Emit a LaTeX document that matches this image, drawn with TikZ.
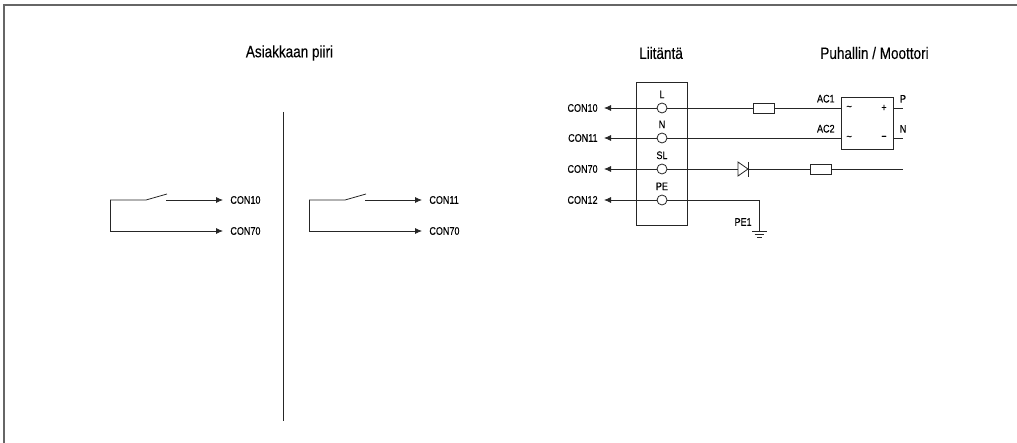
\documentclass[tikz,border=0pt]{standalone}
\usepackage{fontspec}
\setmainfont[FakeStretch=0.82,FakeBold=0.2]{Liberation Sans}
\usetikzlibrary{arrows.meta,positioning}

\begin{document}
\begin{tikzpicture}[x=1pt,y=-1pt,line width=0.8pt]
      \tikzstyle{wire}=[draw=black!85]
      \tikzstyle{tip}=[-{Latex[length=7pt,width=6pt]}]
      \tikzstyle{sig}=[inner sep=0pt,font=\fontsize{11}{11}\selectfont]
      \tikzstyle{title}=[inner sep=0pt,font=\fontsize{16.5}{16.5}\selectfont]
      \tikzstyle{term}=[circle,draw=black!85,fill=white,inner sep=0pt,minimum size=10pt]
      \tikzstyle{fuse}=[rectangle,draw=black!85,fill=white,inner sep=0pt,minimum width=21pt,minimum height=10pt]

      \useasboundingbox (0,0) rectangle (1017,443);
      \draw[draw=black!60,line width=1.2pt] (4,443) -- (4,5) -- (1017,5);

      \node[title](client) at (289.5,53){Asiakkaan piiri};
      \node[title](terminal) at (661,53){Liitäntä};
      \node[title](motor) at (874.5,53){Puhallin / Moottori};
      \coordinate (divtop) at (283,112);
      \coordinate (divbot) at (283,421);
      \draw[wire] (divtop) -- (divbot);

      \begin{scope}
        \coordinate (a) at (146,200);
        \coordinate (b) at (167,194);
        \coordinate (c) at (166,200);
        \coordinate (d) at (110,200);
        \coordinate (e) at (110,231);
        \node[sig,anchor=west](out1) at (230,200){CON10};
        \node[sig,anchor=west](out2) at (230,231){CON70};
        \draw[wire] (d) -- (a) -- (b);
        \draw[wire] (d) -- (e);
        \path[tip]
        (c) edge[wire] ([xshift=-7pt]out1.west)
        (e) edge[wire] ([xshift=-7pt]out2.west);
      \end{scope}

      \begin{scope}[xshift=199pt]
        \coordinate (a) at (146,200);
        \coordinate (b) at (167,194);
        \coordinate (c) at (166,200);
        \coordinate (d) at (110,200);
        \coordinate (e) at (110,231);
        \node[sig,anchor=west](out1) at (230,200){CON11};
        \node[sig,anchor=west](out2) at (230,231){CON70};
        \draw[wire] (d) -- (a) -- (b);
        \draw[wire] (d) -- (e);
        \path[tip]
        (c) edge[wire] ([xshift=-7pt]out1.west)
        (e) edge[wire] ([xshift=-7pt]out2.west);
      \end{scope}

      \node[rectangle,draw=black!85,minimum width=51pt,minimum height=143pt,inner sep=0pt](block) at (661.5,153.5){};

      \node[term](tL) at (662,108){};
      \node[term](tN) at (662,138){};
      \node[term](tSL) at (662,169){};
      \node[term](tPE) at (662,200){};
      \node[sig,above=4pt of tL](lL){L};
      \node[sig,above=4pt of tN](lN){N};
      \node[sig,above=4pt of tSL](lSL){SL};
      \node[sig,above=4pt of tPE](lPE){PE};

      \node[sig,anchor=east](con10) at (598,108){CON10};
      \node[sig,anchor=east](con11) at (598,138){CON11};
      \node[sig,anchor=east](con70) at (598,169){CON70};
      \node[sig,anchor=east](con12) at (598,200){CON12};

      \path[tip]
      (tL) edge[wire] ([xshift=6pt]con10.east)
      (tN) edge[wire] ([xshift=6pt]con11.east)
      (tSL) edge[wire] ([xshift=6pt]con70.east)
      (tPE) edge[wire] ([xshift=6pt]con12.east);

      \node[rectangle,draw=black!85,minimum width=52pt,minimum height=52pt,inner sep=0pt](bridge) at (867,123){};
      \node[sig](acp) at (849,108){\textasciitilde};
      \node[sig](acn) at (849,138){\textasciitilde};
      \node[sig](dcp) at (884,108){+};
      \node[sig](dcn) at (884,138){\textminus};

      \coordinate (in1) at (841,108);
      \coordinate (in2) at (841,138);
      \coordinate (p1) at (893,108);
      \coordinate (p2) at (903,108);
      \coordinate (n1) at (893,138);
      \coordinate (n2) at (903,138);
      \coordinate (slend) at (903,169);
      \node[sig,anchor=south](lP) at (903,103){P};
      \node[sig,anchor=south](lNN) at (903,133){N};
      \node[sig,anchor=south east](ac1) at (835,103){AC1};
      \node[sig,anchor=south east](ac2) at (835,133){AC2};

      \node[fuse](f1) at (764,108){};
      \node[fuse](f2) at (820.5,169){};
      \coordinate (diodeL) at (738,169);
      \coordinate (diodeR) at (748,169);
      \coordinate (diodeT) at (738,162);
      \coordinate (diodeB) at (738,176);
      \coordinate (barT) at (748,162);
      \coordinate (barB) at (748,177);

      \draw[wire] (tL) -- (f1) -- (in1);
      \draw[wire] (tN) -- (in2);
      \draw[wire] (p1) -- (p2);
      \draw[wire] (n1) -- (n2);
      \draw[wire] (tSL) -- (diodeL);
      \draw[wire] (diodeT) -- (diodeB) -- (diodeR) -- cycle;
      \draw[wire] (barT) -- (barB);
      \draw[wire] (diodeR) -- (f2) -- (slend);

      \coordinate (pecorner) at (759,200);
      \coordinate (gnd) at (759,231);
      \node[sig,anchor=east](pe1) at (752,222){PE1};
      \draw[wire] (tPE) -- (pecorner) -- (gnd);
      \draw[wire] (752,231) -- (767,231);
      \draw[wire] (754.5,234) -- (764,234);
      \draw[wire] (757,237) -- (761.5,237);
    \end{tikzpicture}
\end{document}
